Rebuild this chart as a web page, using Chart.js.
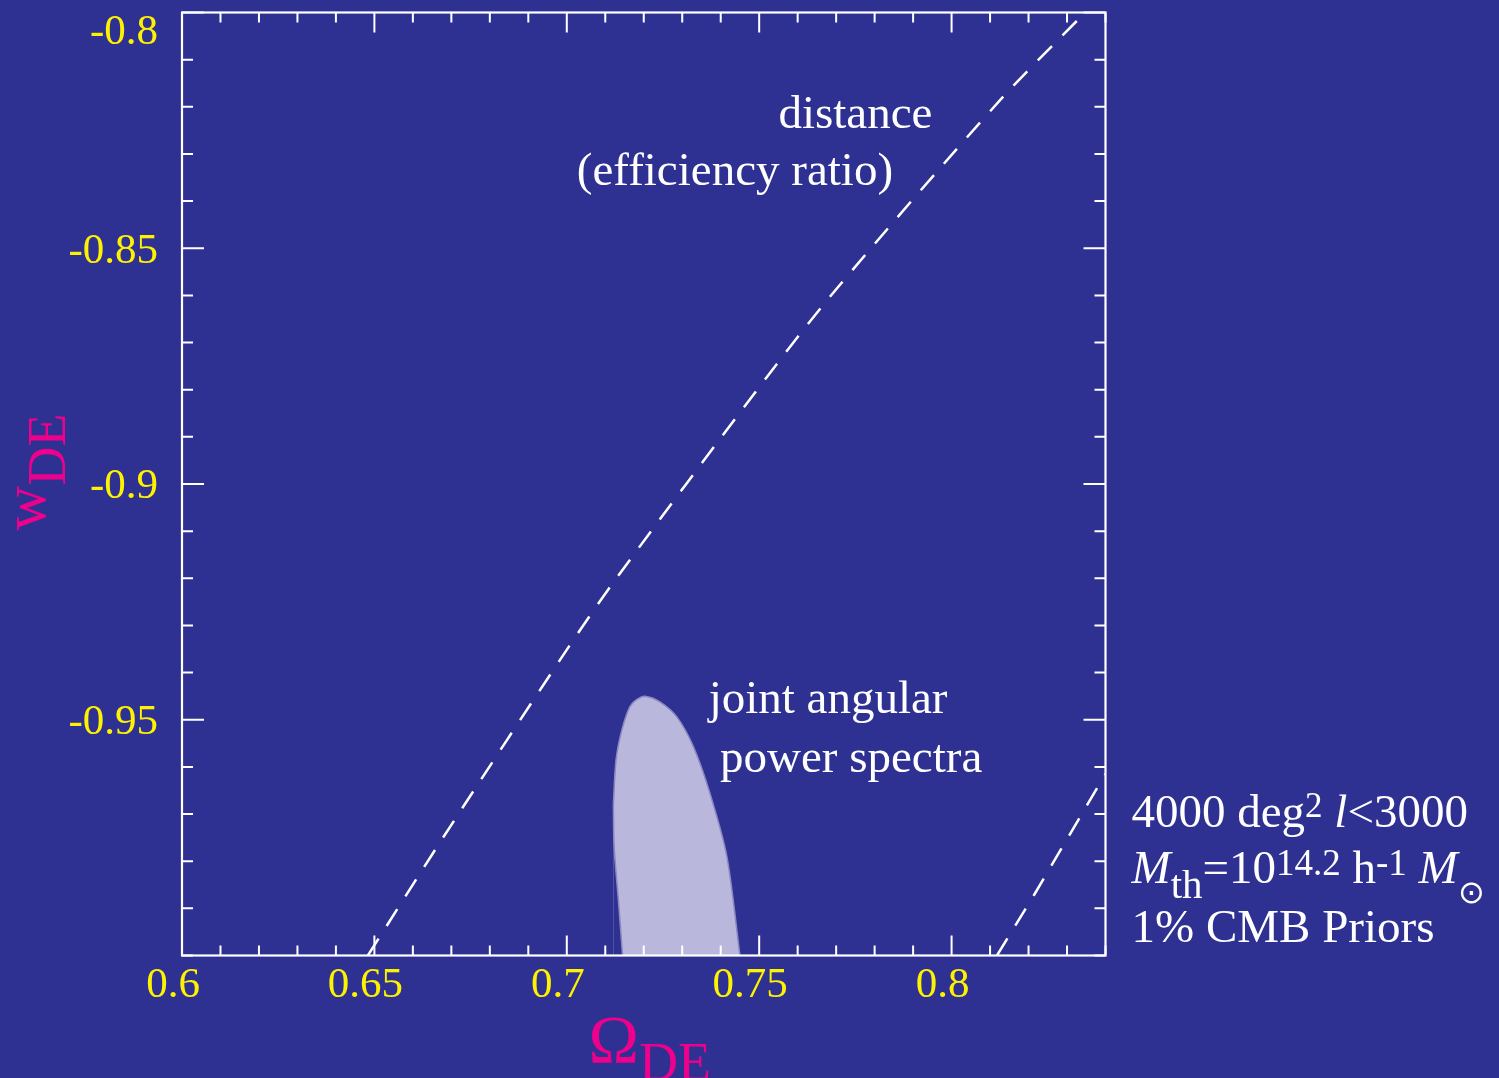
<!DOCTYPE html>
<html lang="en">
<head>
  <meta charset="UTF-8">
  <title>w_DE x Omega_DE</title>
  <script src="https://cdn.jsdelivr.net/npm/chart.js"></script>
  <style>
    html, body { margin: 0; padding: 0; background: #2e3192; }
    #wrap { width: 1499px; height: 1078px; }
  </style>
</head>
<body>
  <div id="wrap"><canvas id="grafico" width="1499" height="1078"></canvas></div>

  <script>
    // tick labels
    const xTicks = [0.6, 0.65, 0.7, 0.75, 0.8];
    const yTicks = [-0.8, -0.85, -0.9, -0.95];

    // distance (efficiency ratio) - left dashed curve
    const distX = [0.6483, 0.6676, 0.6998, 0.7128, 0.7492, 0.7692, 0.8126, 0.8347];
    const distY = [-1.0, -0.9753, -0.9354, -0.9201, -0.8803, -0.8595, -0.8186, -0.8];

    // second dashed curve (lower right corner)
    const dist2X = [0.8118, 0.8217, 0.8386, 0.8400];
    const dist2Y = [-1.0, -0.9868, -0.9634, -0.9615];

    // joint angular power spectra contour: upper part, from the leftmost point round the top to the bottom right
    const jointTopX = [0.7121, 0.7128, 0.7143, 0.7164, 0.7182, 0.7203, 0.7242, 0.7286, 0.7329, 0.7372, 0.7416, 0.7450];
    const jointTopY = [-0.9680, -0.9585, -0.9522, -0.9472, -0.9457, -0.9450, -0.9462, -0.9494, -0.9557, -0.9656, -0.9790, -1.0];
    // lower left part, from the leftmost point down to the bottom
    const jointLowX = [0.7121, 0.7123, 0.7134, 0.7145];
    const jointLowY = [-0.9680, -0.9769, -0.9882, -1.0];

    const fundo = '#2e3192';
    const amarelo = '#fff200';
    const magenta = '#ec008c';
    const lilas = '#b9b7db';
    const contorno = '#8a88c2';
    const serif = "'Liberation Serif', 'Times New Roman', serif";

    const near = (a, b) => Math.abs(a - b) < 1e-6;
    const isMajor = (list, v) => list.some(t => near(t, v));
    const pts = (xs, ys) => xs.map((v, i) => ({ x: v, y: ys[i] }));

    // texto com partes (sobrescrito / subscrito / italico)
    const texto = (ctx, x, y, partes, align) => {
      let total = 0;
      partes.forEach(p => {
        ctx.font = `${p[2] || ''} ${p[1]}px ${serif}`;
        total += ctx.measureText(p[0]).width;
      });
      let cx = align === 'center' ? x - total / 2 : x;
      ctx.textAlign = 'left';
      ctx.textBaseline = 'alphabetic';
      partes.forEach(p => {
        ctx.font = `${p[2] || ''} ${p[1]}px ${serif}`;
        ctx.fillText(p[0], cx, y + (p[3] || 0));
        cx += ctx.measureText(p[0]).width;
      });
    };

    const moldura = {
      id: 'moldura',
      beforeDraw(chart) {
        const ctx = chart.ctx;
        ctx.save();
        ctx.fillStyle = fundo;
        ctx.fillRect(0, 0, chart.width, chart.height);
        ctx.restore();
      },
      afterDraw(chart) {
        const { ctx, chartArea: a, scales: { x, y } } = chart;
        ctx.save();

        // frame + ticks on all four sides
        ctx.strokeStyle = '#ffffff';
        ctx.lineWidth = 2.2;
        ctx.strokeRect(a.left, a.top, a.right - a.left, a.bottom - a.top);
        ctx.lineWidth = 2;
        ctx.beginPath();
        x.ticks.forEach(t => {
          const px = x.getPixelForValue(t.value);
          const len = isMajor(xTicks, t.value) ? 20 : 10;
          ctx.moveTo(px, a.bottom); ctx.lineTo(px, a.bottom - len);
          ctx.moveTo(px, a.top); ctx.lineTo(px, a.top + len);
        });
        y.ticks.forEach(t => {
          const py = y.getPixelForValue(t.value);
          const len = isMajor(yTicks, t.value) ? 22 : 11;
          ctx.moveTo(a.left, py); ctx.lineTo(a.left + len, py);
          ctx.moveTo(a.right, py); ctx.lineTo(a.right - len, py);
        });
        ctx.stroke();

        // anotacoes dentro do grafico
        ctx.fillStyle = '#ffffff';
        texto(ctx, x.getPixelForValue(0.775), y.getPixelForValue(-0.8245), [['distance', 47]], 'center');
        texto(ctx, x.getPixelForValue(0.7437), y.getPixelForValue(-0.8366), [['(efficiency ratio)', 47]], 'center');
        texto(ctx, x.getPixelForValue(0.7679), y.getPixelForValue(-0.9486), [['joint angular', 47]], 'center');
        texto(ctx, x.getPixelForValue(0.7739), y.getPixelForValue(-0.9611), [['power spectra', 47]], 'center');

        // legenda da direita
        const lx = a.right + 26;
        texto(ctx, lx, 827, [['4000 deg', 47], ['2', 35, '', -10], [' ', 47], ['l', 47, 'italic'], ['<3000', 47]]);
        texto(ctx, lx, 883, [['M', 47, 'italic'], ['th', 41, '', 15], ['=10', 47], ['14.2', 37, '', -8],
                             [' h', 47], ['-1', 37, '', -8], [' ', 47], ['M', 47, 'italic'], ['\u2299', 32, '', 20]]);
        texto(ctx, lx, 942, [['1% CMB Priors', 47]]);

        // titulos dos eixos
        ctx.fillStyle = magenta;
        const cxm = (a.left + a.right) / 2 + 6;
        texto(ctx, cxm, 1062, [['\u03A9', 68], ['DE', 54, '', 18]], 'center');

        ctx.translate(45, (a.top + a.bottom) / 2 - 12);
        ctx.rotate(-Math.PI / 2);
        texto(ctx, 0, 0, [['w', 62], ['DE', 54, '', 20]], 'center');

        ctx.restore();
      }
    };

    new Chart(document.getElementById('grafico'), {
      type: 'scatter',
      data: {
        datasets: [
          {
            label: 'joint angular power spectra (lower left)',
            data: pts(jointLowX, jointLowY),
            order: 1,
            showLine: true,
            fill: 'start',
            backgroundColor: fundo,
            borderColor: contorno,
            borderWidth: 1.5,
            pointRadius: 0,
            tension: 0.3,
          },
          {
            label: 'joint angular power spectra',
            data: pts(jointTopX, jointTopY),
            order: 2,
            showLine: true,
            fill: 'start',
            backgroundColor: lilas,
            borderColor: contorno,
            borderWidth: 1.5,
            pointRadius: 0,
            tension: 0.3,
          },
          {
            label: 'distance (efficiency ratio)',
            data: pts(distX, distY),
            order: 0,
            showLine: true,
            fill: false,
            borderColor: '#ffffff',
            borderWidth: 2.5,
            borderDash: [20, 15],
            pointRadius: 0,
            tension: 0.3,
          },
          {
            label: 'distance 2',
            data: pts(dist2X, dist2Y),
            order: 0,
            showLine: true,
            fill: false,
            borderColor: '#ffffff',
            borderWidth: 2.5,
            borderDash: [20, 15],
            pointRadius: 0,
            tension: 0,
          },
        ],
      },
      options: {
        responsive: false,
        animation: false,
        devicePixelRatio: 1,
        layout: { padding: { top: 12.5, right: 393.5, left: 0, bottom: 0 } },
        plugins: { legend: { display: false }, tooltip: { enabled: false } },
        scales: {
          x: {
            type: 'linear',
            min: 0.6,
            max: 0.84,
            grid: { display: false },
            border: { display: false },
            ticks: {
              stepSize: 0.01,
              autoSkip: false,
              maxRotation: 0,
              color: amarelo,
              font: { family: serif, size: 43 },
              padding: -4,
              labelOffset: -9,
              callback: v => isMajor(xTicks, v) ? String(+v.toFixed(2)) : '',
            },
            afterFit: s => { s.height = 122.5; s.paddingLeft = 0; s.paddingRight = 0; },
          },
          y: {
            type: 'linear',
            min: -1.0,
            max: -0.8,
            grid: { display: false },
            border: { display: false },
            ticks: {
              stepSize: 0.01,
              autoSkip: false,
              color: amarelo,
              padding: 16,
              labelOffset: 3,
              font: c => ({ family: serif, size: 43, lineHeight: (c.tick && near(c.tick.value, -0.8)) ? 0.8 : 1.2 }),
              callback: v => {
                if (!isMajor(yTicks, v)) return '';
                const s = String(+v.toFixed(2));
                return near(v, -0.8) ? ['', s] : s;
              },
            },
            afterFit: s => { s.width = 182; s.paddingTop = 0; s.paddingBottom = 0; },
          },
        },
      },
      plugins: [moldura],
    });
  </script>
</body>
</html>
